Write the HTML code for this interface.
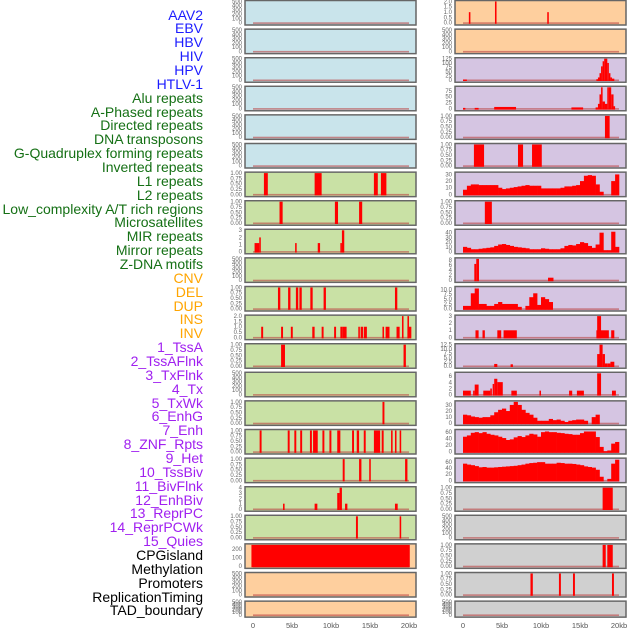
<!DOCTYPE html>
<html><head><meta charset="utf-8">
<style>
body{margin:0;background:#fff;width:630px;height:630px;overflow:hidden;font-family:"Liberation Sans",sans-serif}
#labels{position:absolute;left:0;top:0;width:203px;height:630px}
.lb{position:absolute;right:0;font-size:14px;line-height:14px;white-space:nowrap;text-align:right}
svg{position:absolute;left:0;top:0}
</style></head><body>
<div id="labels"></div>
<svg id="chart" width="630" height="630"></svg>
<script>
const trackNames=["AAV2","EBV","HBV","HIV","HPV","HTLV-1","Alu repeats","A-Phased repeats","Directed repeats","DNA transposons","G-Quadruplex forming repeats","Inverted repeats","L1 repeats","L2 repeats","Low_complexity A/T rich regions","Microsatellites","MIR repeats","Mirror repeats","Z-DNA motifs","CNV","DEL","DUP","INS","INV","1_TssA","2_TssAFlnk","3_TxFlnk","4_Tx","5_TxWk","6_EnhG","7_Enh","8_ZNF_Rpts","9_Het","10_TssBiv","11_BivFlnk","12_EnhBiv","13_ReprPC","14_ReprPCWk","15_Quies","CPGisland","Methylation","Promoters","ReplicationTiming","TAD_boundary"];
const xTicks=[0,5,10,15,20];
const xTickLabels=["0","5kb","10kb","15kb","20kb"];
// spike bars: [startKb,endKb,value]
const L6=[[1.4,1.9,1],[7.9,8.8,1],[15.5,16.0,1],[16.4,17.1,1]];
const L7=[[3.4,3.8,1],[10.5,10.9,1],[13.6,14.0,1]];
const L8=[[0.2,0.8,1.2],[0.8,1.0,2],[5.4,5.6,1.2],[8.3,8.6,1.2],[11.2,11.4,1.2],[11.4,11.7,3]];
const L10=[[3.2,3.5,1],[4.5,4.8,1],[5.5,5.8,1],[5.95,6.25,1],[7.35,7.65,1],[9.05,9.35,1],[18.2,18.5,1]];
const L11=[[1.05,1.3,1],[3.6,3.85,1],[4.85,5.1,1],[7.6,7.9,1],[8.8,9.05,1],[10.4,10.65,1],[11.2,11.5,1],[11.5,12,1],[13.5,13.7,1],[13.8,14.1,1],[14.2,14.6,1],[16.6,16.8,1],[17,17.5,1],[18.4,18.8,1],[19.1,19.3,2],[19.8,20.0,2],[19.8,20.3,1]];
const L12=[[3.6,4.1,1],[19.3,19.6,1]];
const L14=[[16.6,16.85,1]];
const L15=[[0.85,1.1,1],[4.45,4.7,1],[5.3,5.55,1],[6.05,6.3,1],[7.3,7.55,1],[7.7,8.3,1],[8.9,9.15,1],[9.8,10.05,1],[10.8,11.2,1],[12.7,12.95,1],[13.3,13.6,1],[14.2,14.45,1],[15.5,16.3,1],[16.5,16.75,1],[17.7,17.9,1],[18.2,18.4,1],[18.8,19.0,1]];
const L16=[[11.5,11.75,1],[13.6,13.9,1],[14.9,15.1,1],[19.5,19.8,1]];
const L17=[[3.85,4.05,1],[7.9,8.25,1],[10.8,11.1,3],[11.1,11.4,4],[11.8,12.1,1],[18.2,18.55,1]];
const L18=[[13.2,13.45,1],[18.8,19.0,1]];
const L19=[[-0.2,20.1,250]];
const R0=[[0.75,0.95,1],[4.1,4.3,2],[10.8,11.0,1]];
const R2=[[0,0.5,3],[17.1,17.3,5],[17.3,17.5,15],[17.5,17.7,40],[17.7,17.9,80],[17.9,18.1,110],[18.1,18.5,125],[18.5,18.7,100],[18.7,18.9,40],[18.9,19.1,15],[19.1,19.4,8]];
const R3=[[0,0.3,3],[1.5,2,3],[4,6.8,7],[13.9,15.4,5],[17,17.3,5],[17.3,17.5,20],[17.5,17.7,60],[17.7,17.9,90],[17.9,18.2,30],[18.2,18.5,20],[18.5,18.7,90],[18.7,19.0,90],[19.0,19.3,60],[19.3,19.5,10]];
const R4=[[18.2,18.8,1]];
const R5=[[1.4,2.7,1],[7.05,7.7,1],[8.85,10.1,1]];
const R7=[[2.8,3.7,1]];
const R9=[[1.45,1.7,6.5],[1.7,2.05,8.5],[10.9,11.6,1]];
const R11=[[1.6,2,1],[2.5,2.8,1],[4.4,4.9,1],[5.2,6.9,1],[17.1,18.7,1],[17.2,17.7,3],[19,19.4,1]];
const R12=[[4.0,4.4,1.2],[6.1,6.4,1],[17.2,17.5,7],[17.5,17.9,12.5],[17.9,18.2,7],[18.2,18.5,1.5],[18.5,18.9,1.5],[18.9,19.4,2.5]];
const R13=[[0,1.0,1.3],[1.3,1.5,1.3],[1.5,2.0,3.3],[2.6,3.5,1.3],[3.5,3.7,2],[3.8,4.0,3.5],[4.0,4.4,5.2],[4.4,5.1,4.1],[6.2,6.9,1.3],[9.8,10.0,1.3],[13.6,14.0,1.3],[14.6,15.5,1.3],[17.2,17.7,7],[19.1,19.6,1.3]];
const R17=[[17.9,19.2,1]];
const R19=[[17.9,18.3,1],[18.5,19.2,1]];
const R20=[[8.65,8.95,1],[12.3,12.55,1],[14.1,14.35,1],[19.1,19.35,1]];
// continuous series, 0.5kb bins from 0kb
const R6s=[7,13,15,15,14,14,14,14,14,10,8,9,10,11,12,13,14,13,13,13,9,9,9,9,9,10,12,12,13,14,20,28,29,28,15,4,0,0,20,30];
const R8s=[10,8,5,5,6,7,8,9,12,15,16,14,12,10,9,8,7,5,5,5,7,6,5,5,5,7,12,14,13,16,20,18,12,8,15,40,3,3,42,10];
const R10s=[1.5,1.5,8,10.5,2.5,2.5,1.5,1.5,2.5,3.5,2.5,2.5,2.5,2.5,1,0,1.5,6,8,2,6,5,3.5,0,0,0,0,0,0,0,0,0,0,0,0,0,0,0,0,0];
const R14s=[14,13,11,10,9,10,10,13,18,22,24,20,30,35,30,22,17,14,9,4,4,4,7,5,6,4,2,4,5,6,6,4,0,10,14,0,0,0,0,0];
const R15s=[46,50,58,60,57,60,55,52,50,46,42,36,38,44,48,45,50,55,53,46,60,62,60,60,58,57,55,54,52,52,57,62,62,62,45,15,2,4,25,30];
const R16s=[55,52,50,47,43,44,42,42,43,44,45,46,47,48,50,52,55,57,58,60,60,55,55,55,58,57,55,55,54,52,50,46,44,42,35,12,0,5,55,68];

const T1=[[0,"0.00"],[0.25,"0.25"],[0.5,"0.50"],[0.75,"0.75"],[1,"1.00"]];
const T500=[[0,"0"],[100,"100"],[200,"200"],[300,"300"],[400,"400"],[500,"500"]];
const C={blue:"#c9e4eb",green:"#c9e1a5",orange:"#fecf9e",purple:"#d5c5e2",gray:"#d0d0d0"};
const E=null;
const leftCfg=[
 [C.blue,500,T500,E],[C.blue,500,T500,E],[C.blue,500,T500,E],[C.blue,500,T500,E],[C.blue,500,T500,E],[C.blue,500,T500,E],
 [C.green,1,T1,L6],[C.green,1,T1,L7],[C.green,3,[[0,"0"],[1,"1"],[2,"2"],[3,"3"]],L8],[C.green,500,T500,E],
 [C.green,1,T1,L10],[C.green,2,[[0,"0.0"],[0.5,"0.5"],[1,"1.0"],[1.5,"1.5"],[2,"2.0"]],L11],[C.green,1,T1,L12],[C.green,500,T500,E],
 [C.green,1,T1,L14],[C.green,1,T1,L15],[C.green,1,T1,L16],[C.green,4,[[0,"0"],[1,"1"],[2,"2"],[3,"3"],[4,"4"]],L17],[C.green,1,T1,L18],
 [C.orange,250,[[0,"0"],[100,"100"],[200,"200"]],L19],[C.orange,500,T500,E],[C.orange,500,T500,E]];
const rightCfg=[
 [C.orange,2,[[0,"0.0"],[0.5,"0.5"],[1,"1.0"],[1.5,"1.5"],[2,"2.0"]],R0],[C.orange,500,T500,E],
 [C.purple,125,[[0,"0"],[25,"25"],[50,"50"],[75,"75"],[100,"100"],[125,"125"]],R2],
 [C.purple,90,[[0,"0"],[25,"25"],[50,"50"],[75,"75"]],R3],[C.purple,1,T1,R4],[C.purple,1,T1,R5],
 [C.purple,32,[[0,"0"],[10,"10"],[20,"20"],[30,"30"]],E,R6s],[C.purple,1,T1,R7],
 [C.purple,45,[[0,"0"],[10,"10"],[20,"20"],[30,"30"],[40,"40"]],E,R8s],[C.purple,8.5,[[0,"0"],[2,"2"],[4,"4"],[6,"6"],[8,"8"]],R9],
 [C.purple,11,[[0,"0.0"],[2.5,"2.5"],[5,"5.0"],[7.5,"7.5"],[10,"10.0"]],E,R10s],[C.purple,3,[[0,"0"],[1,"1"],[2,"2"],[3,"3"]],R11],
 [C.purple,12.5,[[0,"0.0"],[2.5,"2.5"],[5,"5.0"],[7.5,"7.5"],[10,"10.0"],[12.5,"12.5"]],R12],
 [C.purple,7,[[0,"0"],[2,"2"],[4,"4"],[6,"6"]],R13],[C.purple,35,[[0,"0"],[10,"10"],[20,"20"],[30,"30"]],E,R14s],
 [C.purple,65,[[0,"0"],[20,"20"],[40,"40"],[60,"60"]],E,R15s],[C.purple,70,[[0,"0"],[20,"20"],[40,"40"],[60,"60"]],E,R16s],
 [C.gray,1,T1,R17],[C.gray,500,T500,E],[C.gray,1,T1,R19],[C.gray,1,T1,R20],[C.gray,500,T500,E]];

const NS="http://www.w3.org/2000/svg";
const svg=document.getElementById('chart');
function mk(t,a,p){const e=document.createElementNS(NS,t);for(const k in a)e.setAttribute(k,a[k]);(p||svg).appendChild(e);return e;}
const lab=document.getElementById('labels');
trackNames.forEach((n,i)=>{
 const d=document.createElement('div');d.className='lb';
 
 
 d.style.top=(15+i*13.86-7.5)+'px';
 d.style.color=i<6?'#1c1cff':i<19?'#157015':i<24?'#ffa500':i<39?'#a020f0':'#000';
 d.textContent=n;lab.appendChild(d);
});
function panel(cfg,col,row){
 const [bg,M,ticks,bars,series]=cfg;
 const x0=col?455:245, z0=col?463:253, k=7.8;
 const top=0.5+row*28.6, h=row===21?16:24.5;
 const g=mk('g',{});
 
 
 const X=kb=>z0+kb*k;
 const Y=v=>top+h-2.2-v/M*(h-3.2);
 const r=mk('rect',{x:x0,y:top,width:171,height:h,fill:bg,stroke:'#666','stroke-width':1.3},g);
 
 
 ticks.forEach(t=>{const tx=mk('text',{x:x0-3,y:Y(t[0])+1.9,'font-size':6,fill:'#666','text-anchor':'end'},g);
  
  
  tx.textContent=t[1];});
 const base=mk('rect',{x:X(0),y:Y(0)-0.5,width:20*k,height:1.6,fill:'#b44','opacity':0.6},g);
 
 
 if(bars)bars.forEach(b=>{const s=Math.max(b[0],-1),e=Math.min(b[1],20.8);
  const br=mk('rect',{x:X(s),y:Y(Math.min(b[2],M)),width:Math.max(X(e)-X(s),1.5),height:Y(0)-Y(Math.min(b[2],M))+1,fill:'#ff0000'},g);
  
  });
 if(series)series.forEach((v,i)=>{if(v<=0)return;
  const br=mk('rect',{x:X(i*0.5),y:Y(v),width:0.5*k+0.3,height:Y(0)-Y(v)+1,fill:'#ff0000'},g);
  
  });
 mk('rect',{x:x0,y:top,width:171,height:h,fill:'none',stroke:'#666','stroke-width':1.3},g);
}
leftCfg.forEach((c,i)=>panel(c,0,i));
rightCfg.forEach((c,i)=>panel(c,1,i));
[253,463].forEach(z0=>{xTicks.forEach((t,i)=>{
 const tx=mk('text',{x:z0+t*7.8,y:628,'font-size':7.5,fill:'#555','text-anchor':'middle'});
 
 
 tx.textContent=xTickLabels[i];});});
</script>
</body></html>
